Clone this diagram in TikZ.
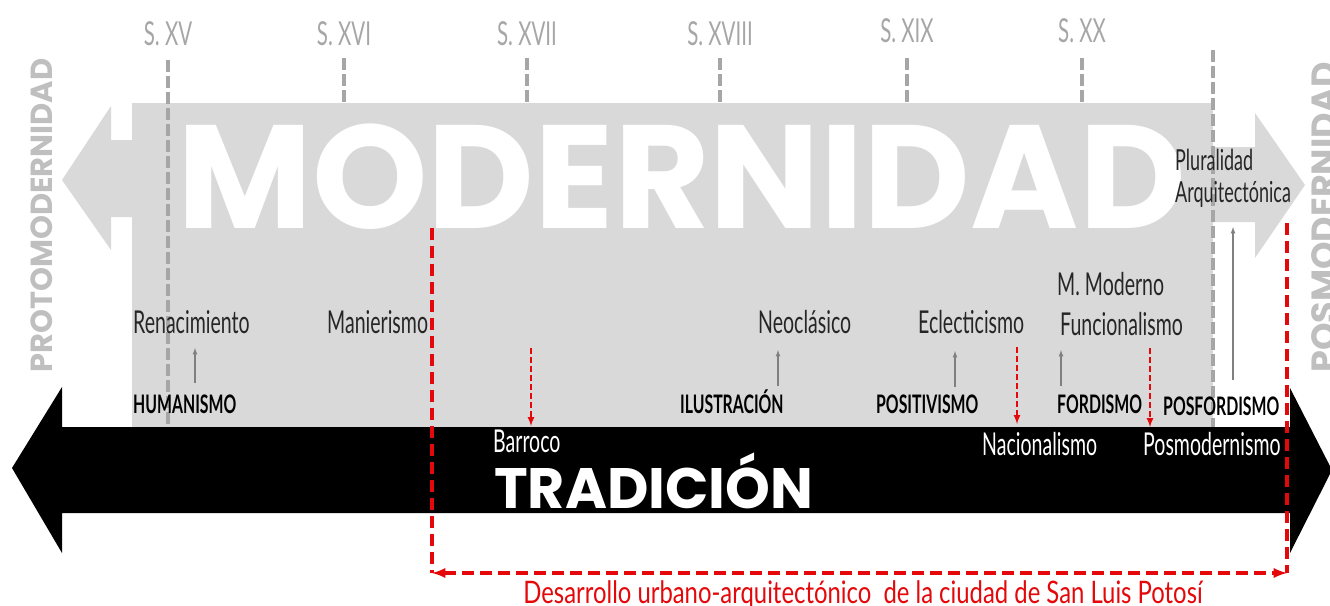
\documentclass[tikz,border=0pt]{standalone}
\usepackage{fontspec}
\usepackage{tikz}
\usetikzlibrary{arrows,calc}
\newfontfamily\narrowfont[FakeStretch=0.62]{Lato}
\newfontfamily\redfont[FakeStretch=0.77]{Lato}
\newfontfamily\geofont{Poppins}
\definecolor{modgray}{RGB}{217,217,217}
\definecolor{sigray}{RGB}{166,166,166}
\definecolor{epgray}{RGB}{191,191,191}
\definecolor{urbred}{RGB}{228,8,10}
\definecolor{labelink}{RGB}{38,38,38}

\begin{document}
\begin{tikzpicture}[x=1pt,y=-1pt,
  siglo/.style={text=sigray,font=\narrowfont\fontsize{33}{33}\selectfont,anchor=base,inner sep=0pt},
  estilo/.style={text=labelink,font=\narrowfont\fontsize{31.5}{31.5}\selectfont,anchor=base west,inner sep=0pt},
  corriente/.style={text=black,font=\narrowfont\bfseries\fontsize{25.5}{25.5}\selectfont,anchor=base west,inner sep=0pt},
  blanco/.style={text=white,font=\narrowfont\fontsize{31.5}{31.5}\selectfont,anchor=base west,inner sep=0pt},
  epoca/.style={text=epgray,font=\geofont\bfseries\fontsize{30.5}{30.5}\selectfont,rotate=90,anchor=base west,inner sep=0pt},
  siglolinea/.style={draw=sigray,line width=4.5pt,dash pattern=on 12pt off 4pt},
  sube/.style={draw=gray,line width=1.2pt,latex-},
  baja/.style={draw=urbred,line width=2pt,dash pattern=on 6pt off 3pt,-latex},
  marco/.style={draw=urbred,line width=3.5pt,dash pattern=on 12pt off 6pt}]
\clip (0,0) rectangle (1330,605);
\fill[modgray] (62,180) -- (111,106) -- (111,140) -- (132,140) -- (132,103) -- (1213,103) -- (1213,147) -- (1255,147) -- (1255,113) -- (1305,185) -- (1255,258) -- (1255,222) -- (1213,222) -- (1213,427) -- (132,427) -- (132,217) -- (111,217) -- (111,250) -- cycle;
\node[text=white,font=\geofont\bfseries\fontsize{147}{147}\selectfont,anchor=base west,inner sep=0pt] (modernidad) at (177,228) {MODERNIDAD};
\fill[black] (12,468) -- (62,387) -- (62,427) -- (1290,427) -- (1290,388) -- (1332,470) -- (1290,553) -- (1290,513) -- (62,513) -- (62,553) -- cycle;
\node[text=white,font=\geofont\bfseries\fontsize{57}{57}\selectfont,anchor=base west,inner sep=0pt] (tradicion) at (494,508) {TRADICIÓN};
\node[epoca] (protomodernidad) at (52,373) {PROTOMODERNIDAD};
\node[epoca,font=\geofont\bfseries\fontsize{35}{35}\selectfont] (posmodernidad) at (1336,373) {POSMODERNIDAD};

\node[siglo] (sxv) at (168,45) {S. XV};
\node[siglo] (sxvi) at (344,45) {S. XVI};
\node[siglo] (sxvii) at (527,45) {S. XVII};
\node[siglo] (sxviii) at (720,45) {S. XVIII};
\node[siglo] (sxix) at (907,42) {S. XIX};
\node[siglo] (sxx) at (1082,42) {S. XX};
\draw[siglolinea] ([yshift=-15pt]sxv.south) -- (sxv.south |- 0,427);
\draw[siglolinea] ([yshift=-13pt]sxvi.south) -- (sxvi.south |- 0,103);
\draw[siglolinea] ([yshift=-13pt]sxvii.south) -- (sxvii.south |- 0,103);
\draw[siglolinea] ([yshift=-13pt]sxviii.south) -- (sxviii.south |- 0,103);
\draw[siglolinea] ([yshift=-16pt]sxix.south) -- (sxix.south |- 0,103);
\draw[siglolinea] ([yshift=-16pt]sxx.south) -- (sxx.south |- 0,103);
\coordinate (finmoderno) at (1213,50);
\draw[siglolinea] (finmoderno) -- (finmoderno |- 0,427);

\node[estilo] (renacimiento) at (133,333) {Renacimiento};
\node[estilo] (manierismo) at (327,333) {Manierismo};
\node[estilo] (neoclasico) at (758,333) {Neoclásico};
\node[estilo] (eclecticismo) at (918,333) {Eclecticismo};
\node[estilo] (funcionalismo) at (1060,335) {Funcionalismo};
\node[estilo] (mmoderno) at (1057,295) {M. Moderno};
\node[estilo,font=\narrowfont\fontsize{29}{29}\selectfont] (pluralidad) at (1175,170) {Pluralidad};
\node[estilo,font=\narrowfont\fontsize{29}{29}\selectfont] (arquitectonica) at (1175,202) {Arquitectónica};

\node[corriente] (humanismo) at (133,413) {HUMANISMO};
\node[corriente] (ilustracion) at (680,413) {ILUSTRACIÓN};
\node[corriente] (positivismo) at (876,413) {POSITIVISMO};
\node[corriente] (fordismo) at (1057,413) {FORDISMO};
\node[corriente] (posfordismo) at (1163,415) {POSFORDISMO};

\node[blanco] (barroco) at (493,452) {Barroco};
\node[blanco] (nacionalismo) at (982,455) {Nacionalismo};
\node[blanco] (posmodernismo) at (1143,455) {Posmodernismo};

\draw[sube] ([xshift=62pt,yshift=-15pt]renacimiento.base west) -- ++(0,35);
\draw[sube] ([xshift=20pt,yshift=-17pt]neoclasico.base west) -- ++(0,36);
\draw[sube] ([xshift=37pt,yshift=-18pt]eclecticismo.base west) -- ++(0,36);
\draw[sube] ([xshift=1pt,yshift=-15pt]funcionalismo.base west) -- ++(0,36);
\draw[sube] ([xshift=58pt,yshift=-25pt]arquitectonica.base west) -- ++(0,153);

\draw[baja] ([xshift=38pt,yshift=104pt]barroco.base west) -- ++(0,78);
\draw[baja] ([xshift=35pt,yshift=108pt]nacionalismo.base west) -- ++(0,77);
\draw[baja] ([xshift=7pt,yshift=107pt]posmodernismo.base west) -- ++(0,79);

\coordinate (inicio) at (432,573);
\coordinate (fin) at (1287,573);
\draw[marco] (inicio |- 0,228) -- (inicio);
\draw[marco] (fin |- 0,223) -- (fin);
\draw[marco,latex-latex] (inicio) -- (fin);
\node[text=urbred,font=\redfont\fontsize{31}{31}\selectfont,anchor=base,inner sep=0pt] (desarrollo) at (863,603) {Desarrollo urbano-arquitectónico \ de la ciudad de San Luis Potosí};
\end{tikzpicture}
\end{document}
